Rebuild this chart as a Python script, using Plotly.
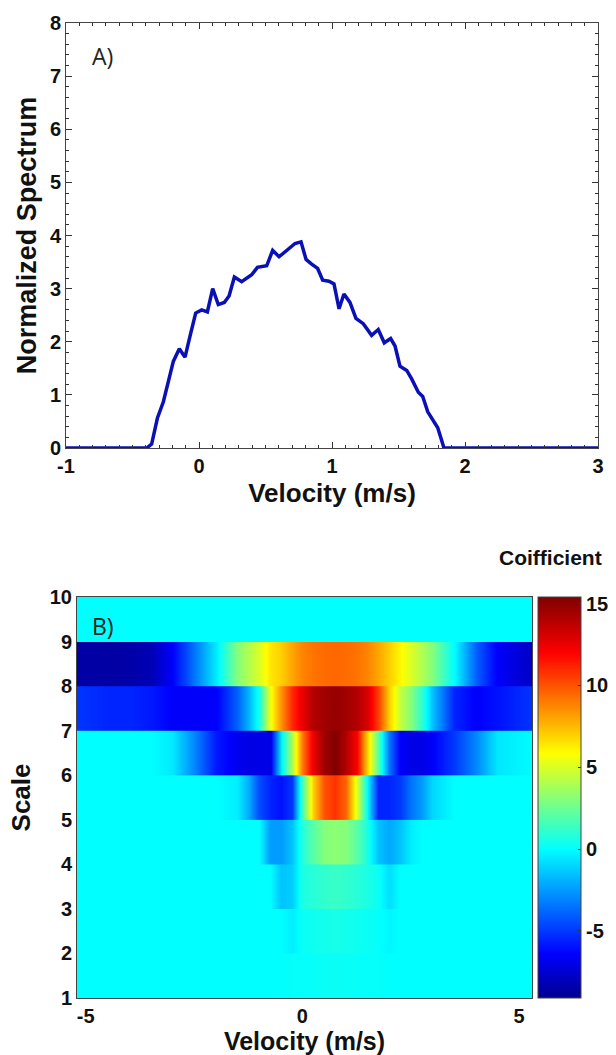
import plotly.graph_objects as go

# Panel A: normalized spectrum
velocity_a = [-1, -0.393, -0.356, -0.331, -0.313, -0.268, -0.231, -0.193, -0.148, -0.105, -0.068, -0.025,
              0.02, 0.063, 0.103, 0.145, 0.19, 0.226, 0.266, 0.321, 0.396, 0.439, 0.509, 0.554, 0.602,
              0.659, 0.722, 0.767, 0.805, 0.847, 0.892, 0.93, 0.977, 1.015, 1.035, 1.053, 1.09, 1.135,
              1.18, 1.235, 1.298, 1.348, 1.393, 1.441, 1.474, 1.511, 1.562, 1.599, 1.649, 1.682, 1.72,
              1.795, 1.842, 3]
spectrum = [0, 0, 0.075, 0.34, 0.56, 0.87, 1.25, 1.63, 1.87, 1.71, 2.10, 2.54,
            2.60, 2.56, 3.00, 2.70, 2.74, 2.86, 3.22, 3.13, 3.26, 3.40, 3.43, 3.72, 3.60,
            3.72, 3.85, 3.88, 3.55, 3.46, 3.38, 3.16, 3.14, 3.09, 2.88, 2.62, 2.90, 2.74,
            2.44, 2.34, 2.12, 2.23, 1.98, 2.06, 1.92, 1.54, 1.46, 1.30, 1.05, 0.97, 0.68,
            0.38, 0, 0]
ticks_a_x = [-1, 0, 1, 2, 3]
ticks_a_x_text = ["-1", "0", "1", "2", "3"]

# Panel B: coefficient per scale band, columns at velocity_b
velocity_b = [-5.3, -4.5, -4, -3.5, -3, -2.5, -2, -1.5, -1.25, -1, -0.75, -0.5, -0.25, 0, 0.25, 0.5, 0.75,
              1, 1.25, 1.5, 1.75, 2, 2.25, 2.5, 2.75, 3, 3.5, 4, 4.5, 5.4]
scale_edges = [1, 2, 3, 4, 5, 6, 7, 8, 9]
band_1 = [0, 0, 0, 0, 0, 0, 0, 0, 0, 0, 0, 0, 0.1, 0.1, 0.1, 0.2, 0.2, 0.2, 0.1, 0.1, 0.1, 0, 0, 0, 0, 0, 0, 0, 0, 0]
band_2 = [0, 0, 0, 0, 0, 0, 0, 0, 0, 0, 0, 0, -0.4, 0.2, 0.3, 0.4, 0.5, 0.4, 0.3, 0.2, 0.1, -0.2, 0, 0, 0, 0, 0, 0, 0, 0]
band_3 = [0, 0, 0, 0, 0, 0, 0, 0, 0, 0, 0, -1.5, -1.2, 0.6, 0.9, 1.1, 1.3, 1.1, 0.9, 0.6, 0.2, -0.8, 0, 0, 0, 0, 0, 0, 0, 0]
band_4 = [0, 0, 0, 0, 0, 0, 0, 0, 0, 0, -2.5, -2.5, -1.5, 0.8, 2, 3, 3.2, 3, 2, 0.6, -1.5, -2.2, -1.5, -0.4, 0, 0, 0, 0, 0, 0]
band_5 = [0, 0, 0, 0, 0, 0, 0, -0.4, -2, -4.5, -5.5, -6, -5, 1.5, 7, 10, 10.8, 9.5, 5, 0, -5.5, -5.5, -5, -3.5, -2.5, -1, 0, 0, 0, 0]
band_6 = [0, 0, 0, 0, -0.5, -3, -5.8, -6.8, -7, -7, -7, -0.5, 4, 9, 12.5, 14.5, 15.4, 14, 12, 7, 2, -3.5, -6.5, -7, -7, -6.5, -5, -3, -0.6, 0]
band_7 = [-5, -5.5, -5.5, -5.8, -6.5, -6.5, -6.5, -4, -2, 0.5, 5.5, 8.5, 11, 12.5, 14, 14.5, 14.8, 14.5, 14, 13, 10.5, 7, 4.5, 3, 1, -1.5, -5.5, -6.5, -6, -5]
band_8 = [-8.6, -8.6, -8.5, -8.2, -6.5, -3.5, -0.5, 3, 4, 5, 6.4, 7, 8, 8.8, 9.2, 9.4, 9.5, 9.4, 9.2, 8.8, 8, 7, 6, 5, 4, 3, 0, -4, -6.5, -8]
band_9 = [0] * 30
bands = [band_1, band_2, band_3, band_4, band_5, band_6, band_7, band_8, band_9]
ticks_b_x = [-5, 0, 5]
ticks_b_x_text = ["-5", "0", "5"]
colorbar_ticks = [-5, 0, 5, 10, 15]
colorbar_text = ["-5", "0", "5", "10", "15"]

W, H = 616, 1055
JET = [[0, "rgb(0,0,143)"], [0.11, "rgb(0,0,255)"], [0.371, "rgb(0,255,255)"],
       [0.61, "rgb(255,255,0)"], [0.86, "rgb(255,0,0)"], [1, "rgb(128,0,0)"]]
tick_font = dict(family="Liberation Sans", size=20, color="#111", weight="bold")
title_font = dict(family="Liberation Sans", size=26, color="#111", weight="bold")


def dx(a, b):
    return [a / W, b / W]


def dy(top, bottom):
    return [1 - bottom / H, 1 - top / H]


fig = go.Figure()
fig.add_trace(go.Scatter(x=velocity_a, y=spectrum, mode="lines", xaxis="x", yaxis="y",
                         line=dict(color="#0a10b4", width=3.5), showlegend=False))
for low, vals in zip(scale_edges, bands):
    # the top row runs just past the band so that the next band covers the seam
    fig.add_trace(go.Heatmap(x=velocity_b, y=[low, low + 0.5, low + 1.03], z=[vals, vals], zsmooth="best",
                             coloraxis="coloraxis", xaxis="x2", yaxis="y2", showlegend=False))

fig.update_layout(
    width=W, height=H, margin=dict(l=0, r=0, t=0, b=0), paper_bgcolor="white", plot_bgcolor="white",
    showlegend=False,
    xaxis=dict(domain=dx(66, 598), range=[-1, 3], tickvals=ticks_a_x, ticktext=ticks_a_x_text, ticks="inside",
               ticklen=6, tickcolor="#333", automargin=False,
               minor=dict(dtick=0.1, ticks="inside", ticklen=3, tickcolor="#333"),
               showline=True, linecolor="#444", linewidth=1, mirror="allticks", showgrid=False, zeroline=False,
               tickfont=tick_font, title=dict(text="Velocity (m/s)", font=title_font, standoff=7)),
    yaxis=dict(domain=dy(23, 448), range=[0, 8], dtick=1, ticks="inside", ticklen=6, tickcolor="#333",
               automargin=False, minor=dict(dtick=0.2, ticks="inside", ticklen=3, tickcolor="#333"),
               showline=True, linecolor="#444", linewidth=1, mirror="allticks", showgrid=False, zeroline=False,
               tickfont=tick_font,
               title=dict(text="Normalized Spectrum", font=dict(title_font, size=27), standoff=5)),
    xaxis2=dict(domain=dx(77, 532), range=[-5.2, 5.3], tickvals=ticks_b_x, ticktext=ticks_b_x_text, ticks="",
                anchor="y2", automargin=False,
                showline=True, linecolor="#444", linewidth=1, mirror=True, showgrid=False, zeroline=False,
                tickfont=tick_font,
                title=dict(text="Velocity (m/s)", font=dict(title_font, size=25), standoff=6)),
    yaxis2=dict(domain=dy(597, 998), range=[1, 10], dtick=1, ticks="", anchor="x2", automargin=False,
                showline=True, linecolor="#444", linewidth=1, mirror=True, showgrid=False, zeroline=False,
                tickfont=tick_font, title=dict(text="Scale", font=title_font, standoff=11)),
    coloraxis=dict(colorscale=JET, cmin=-9.1, cmax=15.4,
                   colorbar=dict(x=538 / W, xanchor="left", thickness=43, thicknessmode="pixels", len=401 / H,
                                 lenmode="fraction", y=1 - 998 / H, yanchor="bottom", xpad=0, ypad=0,
                                 tickvals=colorbar_ticks, ticktext=colorbar_text, ticks="inside", ticklen=3,
                                 tickcolor="#333", outlinewidth=1, outlinecolor="#444", tickfont=tick_font)),
    annotations=[
        dict(text="A)", x=90 / W, y=1 - 56 / H, xref="paper", yref="paper", xanchor="left", yanchor="middle",
             showarrow=False, font=dict(family="Open Sans", size=23, color="#222")),
        dict(text="B)", x=90 / W, y=1 - 626 / H, xref="paper", yref="paper", xanchor="left", yanchor="middle",
             showarrow=False, font=dict(family="Open Sans", size=23, color="#222")),
        dict(text="Coifficient", x=604 / W, y=1 - 557 / H, xref="paper", yref="paper", xanchor="right",
             yanchor="middle", showarrow=False,
             font=dict(family="Liberation Sans", size=21, color="#111", weight="bold")),
    ],
)
fig.write_html("out.html", post_script="document.body.style.margin='0';", config=dict(displayModeBar=False))
